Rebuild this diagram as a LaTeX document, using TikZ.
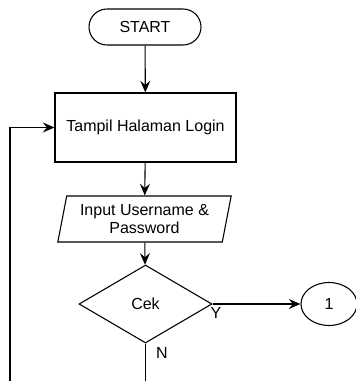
\documentclass[tikz,border=0pt]{standalone}
\usepackage{fontspec}
\setmainfont{Liberation Sans}
\usetikzlibrary{arrows.meta,shapes.geometric}

\begin{document}
\begin{tikzpicture}[x=0.6pt, y=-0.6pt, font=\fontsize{9.6}{11}\selectfont]
    \tikzstyle{flow box} = [draw=black, fill=white, line width=0.65pt, inner sep=0pt]
    \tikzstyle{flow terminal} = [flow box, rectangle, rounded corners=10.8pt, minimum width=67.2pt, minimum height=21.6pt]
    \tikzstyle{flow process} = [flow box, rectangle, minimum width=108.6pt, minimum height=41.4pt]
    \tikzstyle{flow io} = [flow box, trapezium, trapezium left angle=76, trapezium right angle=104, trapezium stretches=true, minimum width=105pt, minimum height=27.6pt, align=center]
    \tikzstyle{flow decision} = [flow box, diamond, minimum width=79.8pt, minimum height=46.8pt]
    \tikzstyle{flow connector} = [flow box, ellipse, minimum width=33.6pt, minimum height=25.8pt]
    \tikzstyle{flow edge} = [draw=black, line width=0.65pt]
    \tikzstyle{flow edge directed} = [flow edge, -{Stealth[length=7pt, width=6pt, inset=2.5pt]}]
\useasboundingbox (0, 0) rectangle (355, 381);
\node[flow terminal] (start) at (145, 27) {START};
\node[flow process] (login) at (145.5, 127.5) {Tampil Halaman Login};
\node[flow io] (input) at (144.5, 219) {Input Username \&\\Password};
\node[flow decision] (cek) at (145.5, 304) {Cek};
\node[flow connector] (con1) at (329, 304) {1};
\coordinate (nend) at (145.5, 381);
\coordinate (loopend) at (10, 381);
\draw[flow edge directed] (start) to (login);
\draw[flow edge directed] (login) to (input);
\draw[flow edge directed] (input) to (cek);
\draw[flow edge directed] (cek.east) to node[pos=0, below, yshift=-1pt, xshift=2pt, inner sep=1pt] {Y} (con1);
\draw[flow edge] (cek.south) to node[pos=0.25, right, inner sep=6pt] {N} (nend);
\draw[flow edge directed] (loopend) |- (login.west);
\end{tikzpicture}
\end{document}
